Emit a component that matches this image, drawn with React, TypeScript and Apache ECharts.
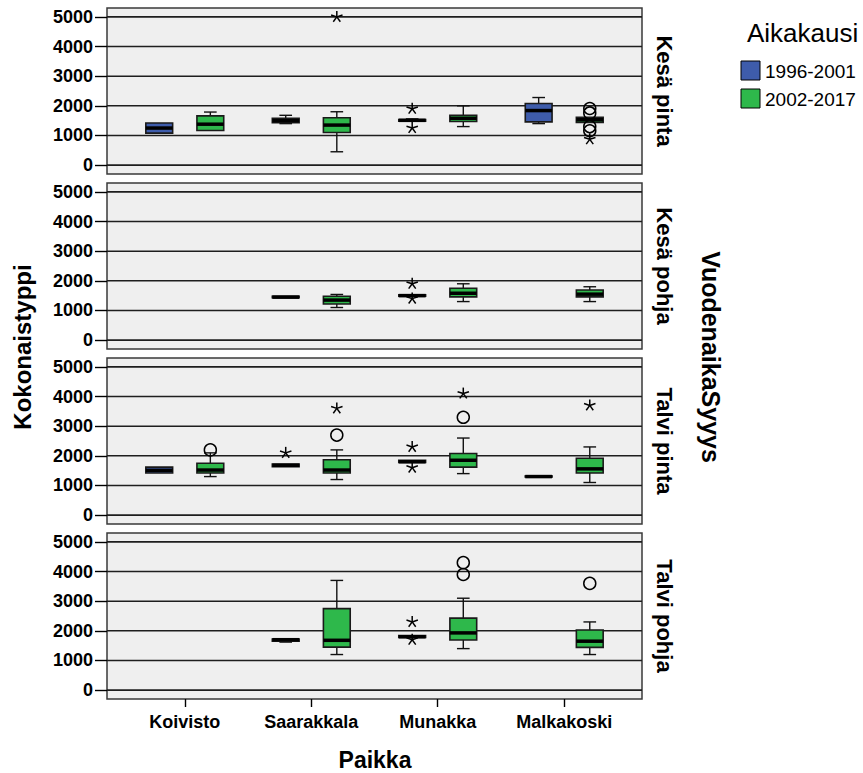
import React, { useEffect, useRef } from "react";
import * as echarts from "echarts";

// ---------- data ----------
const categories = ["Koivisto", "Saarakkala", "Munakka", "Malkakoski"];
const periods = ["1996-2001", "2002-2017"];
const panels = ["Kesä pinta", "Kesä pohja", "Talvi pinta", "Talvi pohja"];
const yTicks = [0, 1000, 2000, 3000, 4000, 5000];

// box rows: [categoryIndex, periodIndex, min, q1, median, q3, max]
const boxesKesaPinta = [
  [0, 0, 1080, 1080, 1250, 1420, 1420],
  [0, 1, 1170, 1170, 1380, 1660, 1790],
  [1, 0, 1400, 1430, 1500, 1580, 1680],
  [1, 1, 450, 1100, 1350, 1600, 1800],
  [2, 0, 1480, 1480, 1510, 1540, 1560],
  [2, 1, 1300, 1470, 1580, 1680, 2000],
  [3, 0, 1400, 1460, 1840, 2080, 2280],
  [3, 1, 1440, 1440, 1530, 1610, 1610],
];
const boxesKesaPohja = [
  [1, 0, 1430, 1430, 1450, 1480, 1480],
  [1, 1, 1100, 1220, 1350, 1480, 1540],
  [2, 0, 1480, 1480, 1500, 1530, 1530],
  [2, 1, 1300, 1460, 1580, 1750, 1900],
  [3, 1, 1300, 1460, 1550, 1690, 1800],
];
const boxesTalviPinta = [
  [0, 0, 1420, 1420, 1510, 1620, 1620],
  [0, 1, 1300, 1420, 1520, 1750, 2100],
  [1, 0, 1630, 1630, 1680, 1720, 1720],
  [1, 1, 1200, 1420, 1520, 1870, 2200],
  [2, 0, 1780, 1780, 1800, 1850, 1850],
  [2, 1, 1400, 1620, 1850, 2080, 2600],
  [3, 0, 1300, 1300, 1300, 1320, 1320],
  [3, 1, 1100, 1420, 1560, 1920, 2300],
];
const boxesTalviPohja = [
  [1, 0, 1620, 1650, 1700, 1720, 1720],
  [1, 1, 1200, 1450, 1680, 2750, 3700],
  [2, 0, 1780, 1780, 1800, 1840, 1840],
  [2, 1, 1400, 1690, 1930, 2430, 3100],
  [3, 1, 1200, 1440, 1650, 2030, 2300],
];

// outliers: [categoryIndex, periodIndex, value]
const circlesKesaPinta = [[3, 1, 1910], [3, 1, 1760], [3, 1, 1300], [3, 1, 1160]];
const starsKesaPinta = [[1, 1, 5000], [2, 0, 1900], [2, 0, 1250], [3, 1, 870]];
const circlesKesaPohja: number[][] = [];
const starsKesaPohja = [[2, 0, 1900], [2, 0, 1400]];
const circlesTalviPinta = [[0, 1, 2200], [1, 1, 2700], [2, 1, 3300]];
const starsTalviPinta = [[1, 0, 2100], [1, 1, 3600], [2, 0, 2300], [2, 0, 1600], [2, 1, 4100], [3, 1, 3700]];
const circlesTalviPohja = [[2, 1, 4300], [2, 1, 3900], [3, 1, 3600]];
const starsTalviPohja = [[2, 0, 2300], [2, 0, 1700]];

const panelBoxes = [boxesKesaPinta, boxesKesaPohja, boxesTalviPinta, boxesTalviPohja];
const panelCircles = [circlesKesaPinta, circlesKesaPohja, circlesTalviPinta, circlesTalviPohja];
const panelStars = [starsKesaPinta, starsKesaPohja, starsTalviPinta, starsTalviPohja];

// ---------- style ----------
const COLORS = ["#3e5cab", "#2eb84b"];
const FONT = "'Liberation Sans', Arial, sans-serif";
const X_MIN = -0.615;
const X_MAX = 3.615;
const OFFSET = 0.202;
const BOX_HALF = 0.106;
const CAP_HALF = 0.05;
const GRID_LEFT = 107;
const GRID_WIDTH = 535;
const GRID_TOP0 = 8;
const GRID_STEP = 175;
const GRID_H = 166;

const xPos = (cat: number, grp: number) => cat + (grp === 0 ? -OFFSET : OFFSET);

function renderBox(params: any, api: any) {
  const cat = api.value(0);
  const grp = api.value(1);
  const mn = api.value(2);
  const q1 = api.value(3);
  const md = api.value(4);
  const q3 = api.value(5);
  const mx = api.value(6);
  const xc = xPos(cat, grp);
  const c = api.coord([xc, md]);
  const l = api.coord([xc - BOX_HALF, q3]);
  const r = api.coord([xc + BOX_HALF, q1]);
  const capL = api.coord([xc - CAP_HALF, mx])[0];
  const capR = api.coord([xc + CAP_HALF, mx])[0];
  const yMax = api.coord([xc, mx])[1];
  const yMin = api.coord([xc, mn])[1];
  const lineStyle = { stroke: "#111", lineWidth: 1.4 };
  const children: any[] = [];
  if (mx > q3) {
    children.push({ type: "line", shape: { x1: c[0], y1: l[1], x2: c[0], y2: yMax }, style: lineStyle });
    children.push({ type: "line", shape: { x1: capL, y1: yMax, x2: capR, y2: yMax }, style: lineStyle });
  }
  if (mn < q1) {
    children.push({ type: "line", shape: { x1: c[0], y1: r[1], x2: c[0], y2: yMin }, style: lineStyle });
    children.push({ type: "line", shape: { x1: capL, y1: yMin, x2: capR, y2: yMin }, style: lineStyle });
  }
  children.push({
    type: "rect",
    shape: { x: l[0], y: l[1], width: r[0] - l[0], height: Math.max(r[1] - l[1], 1) },
    style: { fill: COLORS[grp], stroke: "#1a1a1a", lineWidth: 1.6 },
  });
  children.push({
    type: "line",
    shape: { x1: l[0], y1: c[1], x2: r[0], y2: c[1] },
    style: { stroke: "#000", lineWidth: 3.5 },
  });
  return { type: "group", children };
}

function renderCircle(params: any, api: any) {
  const p = api.coord([xPos(api.value(0), api.value(1)), api.value(2)]);
  return {
    type: "circle",
    shape: { cx: p[0], cy: p[1], r: 6 },
    style: { fill: "none", stroke: "#000", lineWidth: 1.5 },
  };
}

function renderStar(params: any, api: any) {
  const p = api.coord([xPos(api.value(0), api.value(1)), api.value(2)]);
  const arm = 6;
  const children: any[] = [];
  for (let k = 0; k < 5; k++) {
    const a = -Math.PI / 2 + (k * 2 * Math.PI) / 5;
    children.push({
      type: "line",
      shape: { x1: p[0], y1: p[1], x2: p[0] + arm * Math.cos(a), y2: p[1] + arm * Math.sin(a) },
      style: { stroke: "#000", lineWidth: 1.5 },
    });
  }
  return { type: "group", children };
}

function renderGridLine(params: any, api: any) {
  const cs = params.coordSys;
  const y = api.coord([0, api.value(0)])[1];
  return {
    type: "line",
    shape: { x1: cs.x, y1: y, x2: cs.x + cs.width, y2: y },
    style: { stroke: "#1e1e1e", lineWidth: 1.6 },
  };
}

export default function App() {
  const ref = useRef<HTMLDivElement>(null);

  useEffect(() => {
    if (!ref.current) return;
    const chart = echarts.init(ref.current, undefined, { renderer: "svg" });

    const grids: any[] = [];
    const xAxes: any[] = [];
    const yAxes: any[] = [];
    const series: any[] = [];
    const graphics: any[] = [];

    panels.forEach((name, i) => {
      const top = GRID_TOP0 + GRID_STEP * i;
      const last = i === panels.length - 1;
      grids.push({
        left: GRID_LEFT,
        width: GRID_WIDTH,
        top,
        height: GRID_H,
        show: true,
        backgroundColor: "#efefef",
        borderColor: "#3a3a3a",
        borderWidth: 1.5,
      });
      xAxes.push({
        type: "value",
        gridIndex: i,
        position: "bottom",
        min: X_MIN,
        max: X_MAX,
        splitLine: { show: false },
        axisLine: { show: false, onZero: false },
        axisTick: last
          ? { show: true, customValues: [0, 1, 2, 3], length: 8, lineStyle: { color: "#000", width: 1.4 } }
          : { show: false },
        axisLabel: last
          ? {
              show: true,
              customValues: [0, 1, 2, 3],
              formatter: (v: number) => categories[Math.round(v)] ?? "",
              fontFamily: FONT,
              fontWeight: "bold",
              fontSize: 18,
              color: "#000",
              margin: 14,
            }
          : { show: false },
      });
      yAxes.push({
        type: "value",
        gridIndex: i,
        position: "left",
        min: -300,
        max: 5300,
        splitLine: { show: false },
        axisLine: { show: false, onZero: false },
        axisTick: { show: true, customValues: yTicks, length: 12, lineStyle: { color: "#000", width: 1.4 } },
        axisLabel: {
          show: true,
          customValues: yTicks,
          formatter: (v: number) => String(v),
          fontFamily: FONT,
          fontWeight: "bold",
          fontSize: 18,
          color: "#000",
          margin: 14,
        },
      });
      series.push({
        type: "custom",
        xAxisIndex: i,
        yAxisIndex: i,
        data: yTicks.map((v) => [v]),
        renderItem: renderGridLine,
        silent: true,
        z: 1,
      });
      series.push({
        type: "custom",
        xAxisIndex: i,
        yAxisIndex: i,
        data: panelBoxes[i],
        renderItem: renderBox,
        z: 2,
      });
      series.push({
        type: "custom",
        xAxisIndex: i,
        yAxisIndex: i,
        data: panelCircles[i],
        renderItem: renderCircle,
        z: 3,
      });
      series.push({
        type: "custom",
        xAxisIndex: i,
        yAxisIndex: i,
        data: panelStars[i],
        renderItem: renderStar,
        z: 3,
      });
      graphics.push({
        type: "text",
        x: 664,
        y: top + GRID_H / 2,
        rotation: -Math.PI / 2,
        style: {
          text: name,
          font: `bold 22px ${FONT}`,
          fill: "#000",
          align: "center",
          verticalAlign: "middle",
        },
      });
    });

    graphics.push(
      {
        type: "text",
        x: 22,
        y: 347,
        rotation: Math.PI / 2,
        style: { text: "Kokonaistyppi", font: `bold 24px ${FONT}`, fill: "#000", align: "center", verticalAlign: "middle" },
      },
      {
        type: "text",
        x: 375,
        y: 760,
        style: { text: "Paikka", font: `bold 23px ${FONT}`, fill: "#000", align: "center", verticalAlign: "middle" },
      },
      {
        type: "text",
        x: 711,
        y: 357,
        rotation: -Math.PI / 2,
        style: { text: "VuodenaikaSyyys", font: `bold 25px ${FONT}`, fill: "#000", align: "center", verticalAlign: "middle" },
      },
      {
        type: "text",
        x: 747,
        y: 33,
        style: { text: "Aikakausi", font: `26px ${FONT}`, fill: "#000", align: "left", verticalAlign: "middle" },
      }
    );
    periods.forEach((p, k) => {
      const y = 61 + k * 28;
      graphics.push(
        {
          type: "rect",
          shape: { x: 741, y, width: 19, height: 19 },
          style: { fill: COLORS[k], stroke: "#000", lineWidth: 1 },
        },
        {
          type: "text",
          x: 765,
          y: y + 10,
          style: { text: p, font: `19px ${FONT}`, fill: "#000", align: "left", verticalAlign: "middle" },
        }
      );
    });

    chart.setOption({
      animation: false,
      backgroundColor: "#ffffff",
      grid: grids,
      xAxis: xAxes,
      yAxis: yAxes,
      series,
      graphic: graphics,
    });

    return () => chart.dispose();
  }, []);

  return <div ref={ref} style={{ width: 863, height: 773, position: "absolute", left: 0, top: 0 }} />;
}
